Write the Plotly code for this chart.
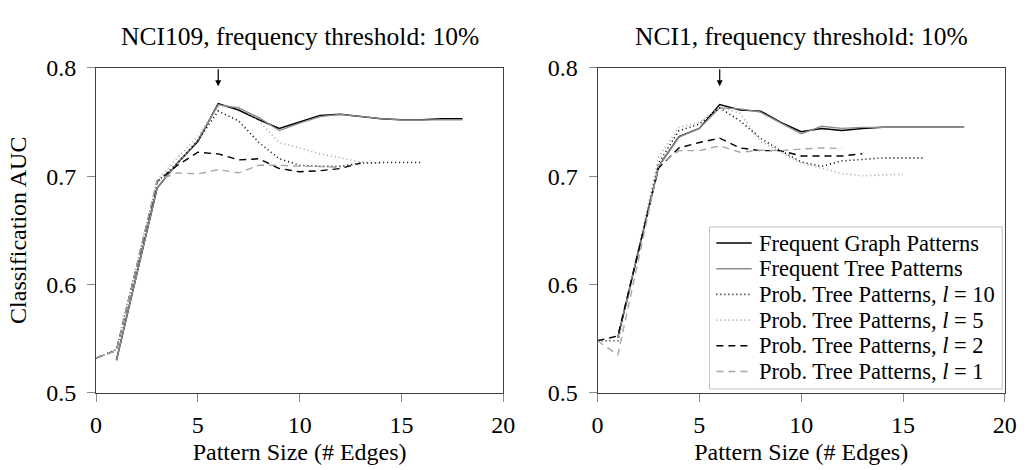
import plotly.graph_objects as go

# Pattern sizes (# edges): graph/tree mining starts at one edge, probabilistic trees at zero
x_graph = list(range(1, 19))
x_full = list(range(0, 19))

# NCI109
nci109_graph = [0.530, 0.610, 0.689, 0.712, 0.732, 0.767, 0.761, 0.752, 0.744, 0.750,
                0.756, 0.757, 0.755, 0.753, 0.752, 0.752, 0.753, 0.753]
nci109_tree = [0.530, 0.610, 0.689, 0.712, 0.733, 0.766, 0.763, 0.754, 0.742, 0.749,
               0.755, 0.757, 0.755, 0.753, 0.752, 0.752, 0.752, 0.752]
nci109_p10 = [0.532, 0.540, 0.6175, 0.695, 0.712, 0.733, 0.760, 0.751, 0.731, 0.716,
              0.710, 0.709, 0.709, 0.712, 0.7125, 0.7125, 0.7125]
nci109_p5 = [0.532, 0.540, 0.6175, 0.696, 0.717, 0.7365, 0.764, 0.764, 0.751, 0.731,
             0.726, 0.7205, 0.717, 0.713, 0.712]
nci109_p2 = [0.532, 0.539, 0.617, 0.695, 0.710, 0.722, 0.7205, 0.715, 0.716, 0.707,
             0.704, 0.705, 0.707, 0.712]
nci109_p1 = [0.532, 0.539, 0.6175, 0.696, 0.703, 0.702, 0.706, 0.703, 0.710, 0.710,
             0.709, 0.709, 0.708]

# NCI1
nci1_graph = [0.551, 0.630, 0.709, 0.7365, 0.744, 0.766, 0.761, 0.760, 0.7496, 0.741,
              0.744, 0.742, 0.744, 0.745, 0.745, 0.745, 0.745, 0.745]
nci1_tree = [0.551, 0.630, 0.709, 0.736, 0.744, 0.763, 0.762, 0.759, 0.749, 0.739,
             0.746, 0.744, 0.745, 0.745, 0.745, 0.745, 0.745, 0.745]
nci1_p10 = [0.548, 0.548, 0.630, 0.712, 0.742, 0.748, 0.763, 0.751, 0.735, 0.7235,
            0.713, 0.709, 0.714, 0.7157, 0.7168, 0.7168, 0.7168]
nci1_p5 = [0.548, 0.548, 0.632, 0.7177, 0.745, 0.7496, 0.764, 0.758, 0.732, 0.722,
           0.712, 0.7075, 0.7023, 0.7003, 0.701, 0.7017]
nci1_p2 = [0.548, 0.5525, 0.630, 0.7075, 0.726, 0.731, 0.735, 0.726, 0.7235, 0.7235,
           0.7186, 0.7186, 0.7186, 0.7206]
nci1_p1 = [0.548, 0.535, 0.622, 0.710, 0.7235, 0.7235, 0.728, 0.722, 0.724, 0.7235,
           0.725, 0.726, 0.7255]

names = ["Frequent Graph Patterns", "Frequent Tree Patterns",
         "Prob. Tree Patterns, <i>l</i> = 10", "Prob. Tree Patterns, <i>l</i> = 5",
         "Prob. Tree Patterns, <i>l</i> = 2", "Prob. Tree Patterns, <i>l</i> = 1"]
styles = [
    dict(color="#000000", width=1.5, dash="solid"),
    dict(color="#8c8c8c", width=1.3, dash="solid"),
    dict(color="#000000", width=1.6, dash="1px,3px"),
    dict(color="#a6a6a6", width=1.6, dash="1px,3px"),
    dict(color="#000000", width=1.4, dash="7px,5px"),
    dict(color="#a6a6a6", width=1.4, dash="7px,5px"),
]

FONT = "Liberation Serif"
W, H = 1030, 470
fig = go.Figure()

panels = [
    ("x", "y", [nci109_graph, nci109_tree, nci109_p10, nci109_p5, nci109_p2, nci109_p1]),
    ("x2", "y2", [nci1_graph, nci1_tree, nci1_p10, nci1_p5, nci1_p2, nci1_p1]),
]
for xa, ya, series in panels:
    for i, vals in enumerate(series):
        xs = x_graph if i < 2 else x_full
        fig.add_trace(go.Scatter(
            x=xs[:len(vals)], y=vals, mode="lines", name=names[i],
            line=styles[i], xaxis=xa, yaxis=ya, showlegend=False))

axis_common = dict(
    range=[0, 20], showline=True, linecolor="#404040", linewidth=1, mirror=True,
    ticks="outside", ticklen=8, tickcolor="#8a8a8a", showgrid=False, zeroline=False,
    tickfont=dict(family=FONT, size=24, color="#000"),
)
xaxis_common = dict(axis_common, tickvals=[0, 5, 10, 15, 20], ticklabelstandoff=2,
                    title=dict(text="Pattern Size (# Edges)", standoff=6,
                               font=dict(family=FONT, size=24, color="#000")))
yaxis_common = dict(axis_common, range=[0.5, 0.8], tickvals=[0.5, 0.6, 0.7, 0.8],
                    tickformat=".1f", ticklabelstandoff=6)

fig.update_layout(
    width=W, height=H, margin=dict(l=0, r=0, t=0, b=0),
    plot_bgcolor="white", paper_bgcolor="white",
    font=dict(family=FONT, size=24, color="#000"),
    xaxis=dict(xaxis_common, domain=[0.0890, 0.4913], anchor="y"),
    xaxis2=dict(xaxis_common, domain=[0.5845, 0.9870], anchor="y2"),
    yaxis=dict(yaxis_common, domain=[0.1447, 0.8766], anchor="x",
               title=dict(text="Classification AUC", standoff=12,
                          font=dict(family=FONT, size=24, color="#000"))),
    yaxis2=dict(yaxis_common, domain=[0.1447, 0.8766], anchor="x2"),
    showlegend=False,
)

# Panel titles and the arrow marking the best pattern size
titles = ["NCI109, frequency threshold: 10%", "NCI1, frequency threshold: 10%"]
for t, xa in zip(titles, ["x", "x2"]):
    ya = xa.replace("x", "y")
    fig.add_annotation(text=t, xref=f"{xa} domain", yref="paper", x=0.5, y=1 - 25 / H,
                       xanchor="center", yanchor="middle", showarrow=False,
                       font=dict(family=FONT, size=25.5, color="#000"))
    fig.add_annotation(x=6, y=0.783, ax=6, ay=0.8, xref=xa, yref=ya,
                       axref=xa, ayref=ya, text="", showarrow=True,
                       arrowhead=2, arrowsize=1, arrowwidth=1.2, arrowcolor="#000")

# Legend box inside the right panel
lx0, lx1, ly0, ly1 = 716, 1014, 226.5, 398
fig.add_shape(type="rect", xref="paper", yref="paper",
              x0=lx0 / W, x1=lx1 / W, y0=1 - ly1 / H, y1=1 - ly0 / H,
              line=dict(color="#c4c4c4", width=1), fillcolor="white", layer="above")
for i, (name, st) in enumerate(zip(names, styles)):
    py = 243.5 + 27.2 * i
    fig.add_shape(type="line", xref="paper", yref="paper",
                  x0=723 / W, x1=759 / W, y0=1 - py / H, y1=1 - py / H,
                  line=st, layer="above")
    fig.add_annotation(text=name, xref="paper", yref="paper", x=764 / W, y=1 - py / H,
                       xanchor="left", yanchor="middle", showarrow=False,
                       font=dict(family=FONT, size=22.5, color="#000"))

fig.write_html("out.html")
